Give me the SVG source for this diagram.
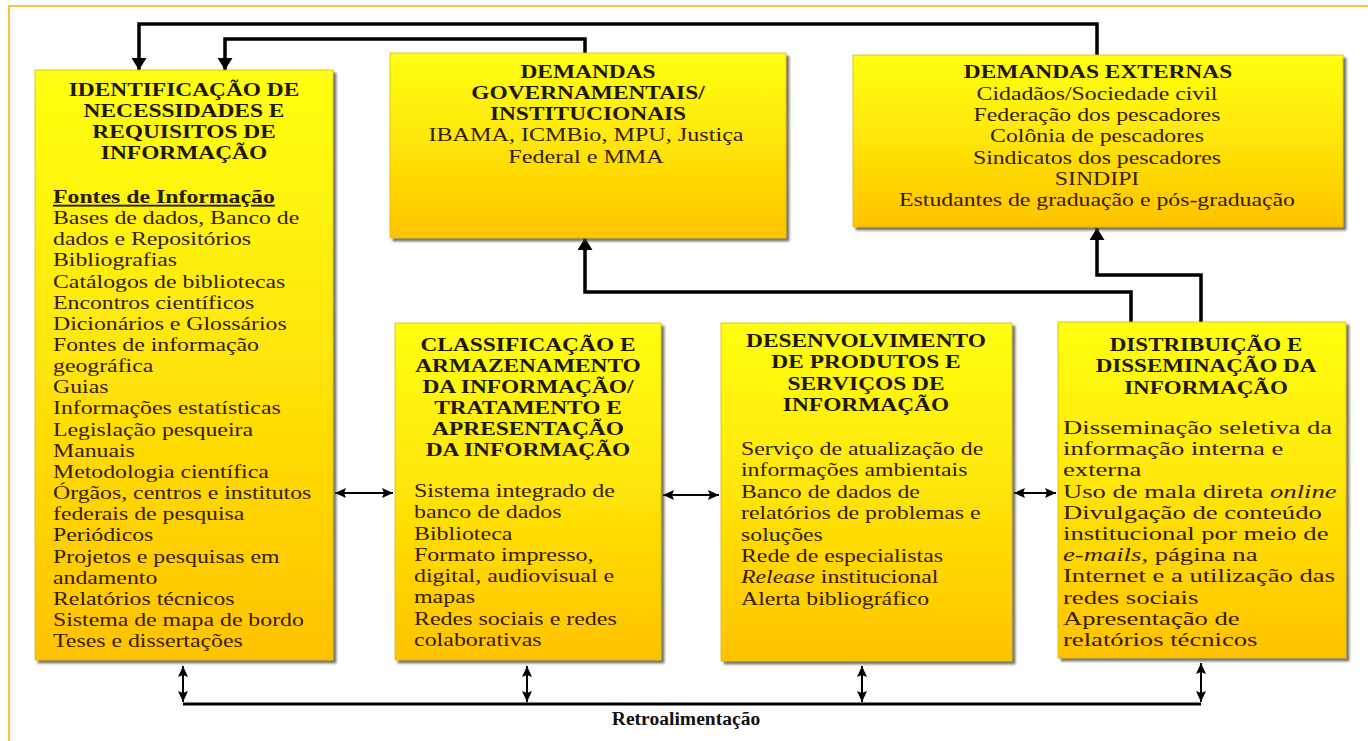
<svg xmlns="http://www.w3.org/2000/svg" width="1368" height="741" viewBox="0 0 1368 741">
  <defs>
    <linearGradient id="boxFill" x1="0" y1="0" x2="0" y2="1">
      <stop offset="0" stop-color="#FFFF12"/>
      <stop offset="0.45" stop-color="#FFE808"/>
      <stop offset="1" stop-color="#FFC200"/>
    </linearGradient>
    <filter id="shadow" x="-5%" y="-5%" width="115%" height="115%">
      <feDropShadow dx="3" dy="3" stdDeviation="1.2" flood-color="#4a4630" flood-opacity="0.75"/>
    </filter>
    <marker id="headBig" viewBox="0 0 12 15" refX="12" refY="7.5" markerWidth="12" markerHeight="15" markerUnits="userSpaceOnUse" orient="auto">
      <path d="M0,0 L12,7.5 L0,15 Z" fill="#000"/>
    </marker>
    <marker id="headSmall" viewBox="0 0 11 10" refX="11" refY="5" markerWidth="11" markerHeight="10" markerUnits="userSpaceOnUse" orient="auto-start-reverse">
      <path d="M0,0 L11,5 L0,10 L2,5 Z" fill="#000"/>
    </marker>
    <style>
      .box { fill: url(#boxFill); stroke: #d9b800; stroke-width: 0.8; filter: url(#shadow); }
      .title { font-family: "Liberation Serif", "Times New Roman", serif; font-size: 18.5px; font-weight: bold; fill: #1d1808; text-anchor: middle; }
      .body { font-family: "Liberation Serif", "Times New Roman", serif; font-size: 18.5px; fill: #35200a; }
      .mid { text-anchor: middle; }
      .sub { font-weight: bold; text-decoration: underline; fill: #2a1c08; }
      .it { font-style: italic; }
      .wire { fill: none; stroke: #000; stroke-width: 3.5; }
      .thin { fill: none; stroke: #000; stroke-width: 2; marker-start: url(#headSmall); marker-end: url(#headSmall); }
      .base { fill: none; stroke: #000; stroke-width: 3; }
      .frame { fill: none; stroke: #F6B600; stroke-width: 1.6; }
      .label { font-family: "Liberation Serif", "Times New Roman", serif; font-size: 19px; font-weight: bold; fill: #111; text-anchor: middle; }
    </style>
  </defs>

  <rect width="1368" height="741" fill="#fff"/>
  <path class="frame" d="M9,741 V6 H1368"/>

  <!-- connectors -->
  <g id="connectors">
    <path class="wire" d="M1097,55 V24 H139 V70" marker-end="url(#headBig)"/>
    <path class="wire" d="M585,53 V39 H225 V70" marker-end="url(#headBig)"/>
    <path class="wire" d="M1131,322 V292 H585 V238" marker-end="url(#headBig)"/>
    <path class="wire" d="M1201,322 V275 H1097 V228" marker-end="url(#headBig)"/>

    <path class="thin" d="M335,493 H393"/>
    <path class="thin" d="M663,495 H719"/>
    <path class="thin" d="M1014,493 H1056"/>

    <path class="thin" d="M183,666 V702"/>
    <path class="thin" d="M527,666 V702"/>
    <path class="thin" d="M862,666 V702"/>
    <path class="thin" d="M1201,663 V702"/>
    <path class="base" d="M183,704 H1201"/>
  </g>

  <!-- Identificação de necessidades -->
  <g id="identificacao">
    <rect class="box" x="35" y="70" width="298" height="590"/>
    <g transform="translate(184,0) scale(1.265,1)">
      <text class="title" x="0" y="96">IDENTIFICAÇÃO DE<tspan x="0" dy="21">NECESSIDADES E</tspan><tspan x="0" dy="21">REQUISITOS DE</tspan><tspan x="0" dy="21">INFORMAÇÃO</tspan></text>
    </g>
    <g transform="translate(53,0) scale(1.285,1)">
      <text class="body" x="0" y="203"><tspan class="sub">Fontes de Informação</tspan><tspan x="0" dy="21.15">Bases de dados, Banco de</tspan><tspan x="0" dy="21.15">dados e Repositórios</tspan><tspan x="0" dy="21.15">Bibliografias</tspan><tspan x="0" dy="21.15">Catálogos de bibliotecas</tspan><tspan x="0" dy="21.15">Encontros científicos</tspan><tspan x="0" dy="21.15">Dicionários e Glossários</tspan><tspan x="0" dy="21.15">Fontes de informação</tspan><tspan x="0" dy="21.15">geográfica</tspan><tspan x="0" dy="21.15">Guias</tspan><tspan x="0" dy="21.15">Informações estatísticas</tspan><tspan x="0" dy="21.15">Legislação pesqueira</tspan><tspan x="0" dy="21.15">Manuais</tspan><tspan x="0" dy="21.15">Metodologia científica</tspan><tspan x="0" dy="21.15">Órgãos, centros e institutos</tspan><tspan x="0" dy="21.15">federais de pesquisa</tspan><tspan x="0" dy="21.15">Periódicos</tspan><tspan x="0" dy="21.15">Projetos e pesquisas em</tspan><tspan x="0" dy="21.15">andamento</tspan><tspan x="0" dy="21.15">Relatórios técnicos</tspan><tspan x="0" dy="21.15">Sistema de mapa de bordo</tspan><tspan x="0" dy="21.15">Teses e dissertações</tspan></text>
    </g>
  </g>

  <!-- Demandas governamentais -->
  <g id="demandas-gov">
    <rect class="box" x="390" y="53" width="396" height="185"/>
    <g transform="translate(588,0) scale(1.265,1)">
      <text class="title" x="0" y="78">DEMANDAS<tspan x="0" dy="21">GOVERNAMENTAIS/</tspan><tspan x="0" dy="21">INSTITUCIONAIS</tspan></text>
    </g>
    <g transform="translate(586,0) scale(1.305,1)">
      <text class="body mid" x="0" y="141">IBAMA, ICMBio, MPU, Justiça<tspan x="0" dy="22">Federal e MMA</tspan></text>
    </g>
  </g>

  <!-- Demandas externas -->
  <g id="demandas-ext">
    <rect class="box" x="853" y="55" width="490" height="172"/>
    <g transform="translate(1098,0) scale(1.265,1)">
      <text class="title" x="0" y="78">DEMANDAS EXTERNAS</text>
    </g>
    <g transform="translate(1097,0) scale(1.285,1)">
      <text class="body mid" x="0" y="100">Cidadãos/Sociedade civil<tspan x="0" dy="21.2">Federação dos pescadores</tspan><tspan x="0" dy="21.2">Colônia de pescadores</tspan><tspan x="0" dy="21.2">Sindicatos dos pescadores</tspan><tspan x="0" dy="21.2">SINDIPI</tspan><tspan x="0" dy="21.2">Estudantes de graduação e pós-graduação</tspan></text>
    </g>
  </g>

  <!-- Classificação e armazenamento -->
  <g id="classificacao">
    <rect class="box" x="395" y="323" width="266" height="337"/>
    <g transform="translate(528,0) scale(1.265,1)">
      <text class="title" x="0" y="351">CLASSIFICAÇÃO E<tspan x="0" dy="21">ARMAZENAMENTO</tspan><tspan x="0" dy="21">DA INFORMAÇÃO/</tspan><tspan x="0" dy="21">TRATAMENTO E</tspan><tspan x="0" dy="21">APRESENTAÇÃO</tspan><tspan x="0" dy="21">DA INFORMAÇÃO</tspan></text>
    </g>
    <g transform="translate(414,0) scale(1.295,1)">
      <text class="body" x="0" y="497">Sistema integrado de<tspan x="0" dy="21.3">banco de dados</tspan><tspan x="0" dy="21.3">Biblioteca</tspan><tspan x="0" dy="21.3">Formato impresso,</tspan><tspan x="0" dy="21.3">digital, audiovisual e</tspan><tspan x="0" dy="21.3">mapas</tspan><tspan x="0" dy="21.3">Redes sociais e redes</tspan><tspan x="0" dy="21.3">colaborativas</tspan></text>
    </g>
  </g>

  <!-- Desenvolvimento de produtos -->
  <g id="desenvolvimento">
    <rect class="box" x="721" y="323" width="291" height="338"/>
    <g transform="translate(866,0) scale(1.265,1)">
      <text class="title" x="0" y="347">DESENVOLVIMENTO<tspan x="0" dy="21.3">DE PRODUTOS E</tspan><tspan x="0" dy="21.3">SERVIÇOS DE</tspan><tspan x="0" dy="21.3">INFORMAÇÃO</tspan></text>
    </g>
    <g transform="translate(741,0) scale(1.285,1)">
      <text class="body" x="0" y="455">Serviço de atualização de<tspan x="0" dy="21.4">informações ambientais</tspan><tspan x="0" dy="21.4">Banco de dados de</tspan><tspan x="0" dy="21.4">relatórios de problemas e</tspan><tspan x="0" dy="21.4">soluções</tspan><tspan x="0" dy="21.4">Rede de especialistas</tspan><tspan x="0" dy="21.4"><tspan class="it">Release</tspan> institucional</tspan><tspan x="0" dy="21.4">Alerta bibliográfico</tspan></text>
    </g>
  </g>

  <!-- Distribuição e disseminação -->
  <g id="distribuicao">
    <rect class="box" x="1058" y="322" width="288" height="336"/>
    <g transform="translate(1206,0) scale(1.245,1)">
      <text class="title" x="0" y="351">DISTRIBUIÇÃO E<tspan x="0" dy="21.3">DISSEMINAÇÃO DA</tspan><tspan x="0" dy="21.3">INFORMAÇÃO</tspan></text>
    </g>
    <g transform="translate(1063,0) scale(1.44,1)">
      <text class="body" x="0" y="434">Disseminação seletiva da<tspan x="0" dy="21.2">informação interna e</tspan><tspan x="0" dy="21.2">externa</tspan><tspan x="0" dy="21.2">Uso de mala direta <tspan class="it">online</tspan></tspan><tspan x="0" dy="21.2">Divulgação de conteúdo</tspan><tspan x="0" dy="21.2">institucional por meio de</tspan><tspan x="0" dy="21.2"><tspan class="it">e-mails</tspan>, página na</tspan><tspan x="0" dy="21.2">Internet e a utilização das</tspan><tspan x="0" dy="21.2">redes sociais</tspan><tspan x="0" dy="21.2">Apresentação de</tspan><tspan x="0" dy="21.2">relatórios técnicos</tspan></text>
    </g>
  </g>

  <!-- feedback label -->
  <g id="retroalimentacao">
    <g transform="translate(686,0) scale(1.03,1)">
      <text class="label" x="0" y="725">Retroalimentação</text>
    </g>
  </g>
</svg>
